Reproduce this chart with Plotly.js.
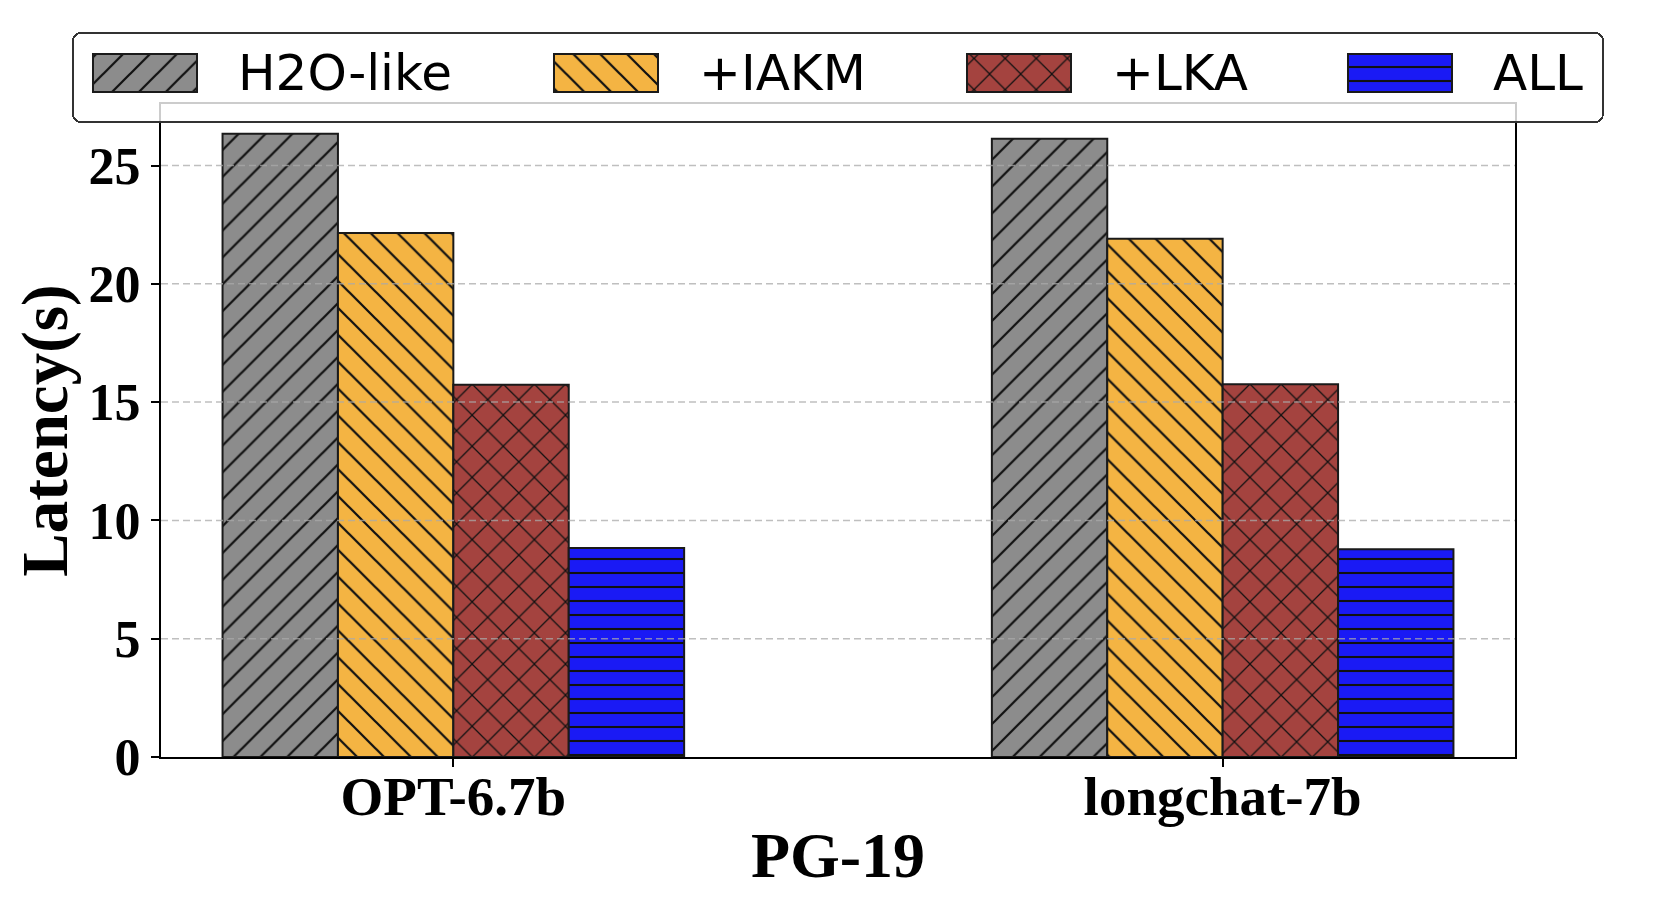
<!DOCTYPE html>
<html><head><meta charset="utf-8">
<script src="https://cdn.plot.ly/plotly-3.0.1.min.js"></script>
<style>html,body{margin:0;padding:0;background:#fff}#chart{width:1661px;height:913px}</style>
</head><body><div id="chart"></div>
<script>
// ---- data ----
const categories = ['OPT-6.7b', 'longchat-7b'];
const seriesNames = ['H2O-like', '+IAKM', '+LKA', 'ALL'];
const h2oLike = [26.34, 26.13];
const iakm = [22.15, 21.90];
const lka = [15.73, 15.75];
const allOpt = [8.83, 8.78];
const yTickValues = [0, 5, 10, 15, 20, 25];
const xTitle = 'PG-19';
const yTitle = 'Latency(s)';

// ---- styles ----
const seriesValues = [h2oLike, iakm, lka, allOpt];
const fills = ['#8c8c8c', '#f4b443', '#a4433f', '#1a1af5'];
const hatches = ['/', '\\', 'x', '-'];
const hatchSizes = [19, 19, 22, 14];
const hatchSolidity = [0.12, 0.12, 0.11, 0.15];

const traces = seriesNames.map((name, i) => ({
  type: 'bar',
  name: name,
  x: categories,
  y: seriesValues[i],
  marker: {
    color: fills[i],
    line: {color: '#1a1a1a', width: 2},
    pattern: {shape: hatches[i], fgcolor: '#111111', bgcolor: fills[i], fillmode: 'replace',
              size: hatchSizes[i], solidity: hatchSolidity[i]}
  },
  hoverinfo: 'skip'
}));

const gridShapes = yTickValues.filter(v => v > 0).map(v => ({
  type: 'line', xref: 'paper', x0: 0, x1: 1, yref: 'y', y0: v, y1: v,
  line: {color: 'rgba(170,170,170,0.75)', width: 1.5, dash: '7px,4px'}, layer: 'above'
}));

const serifBold = {family: 'Liberation Serif, Times New Roman, serif', color: '#000', weight: 'bold'};

const layout = {
  width: 1661, height: 913,
  margin: {l: 161, r: 146, t: 104, b: 156, autoexpand: false},
  paper_bgcolor: '#ffffff', plot_bgcolor: '#ffffff',
  barmode: 'group', bargap: 0.4, bargroupgap: 0,
  font: {family: 'Liberation Serif', color: '#000'},
  showlegend: true,
  xaxis: {
    type: 'category', range: [-0.38, 1.38],
    showline: true, mirror: true, linecolor: '#000', linewidth: 2,
    ticks: 'outside', ticklen: 8, tickwidth: 2, tickcolor: '#000',
    ticklabelstandoff: -18,
    tickfont: Object.assign({size: 55}, serifBold),
    showgrid: false, zeroline: false, automargin: true,
    title: {text: xTitle, font: Object.assign({size: 64}, serifBold), standoff: 6}
  },
  yaxis: {
    range: [0, 27.6], tickmode: 'array', tickvals: yTickValues,
    showline: true, mirror: true, linecolor: '#000', linewidth: 2,
    ticks: 'outside', ticklen: 8, tickwidth: 2, tickcolor: '#000',
    tickfont: Object.assign({size: 52}, serifBold),
    showgrid: false, zeroline: false, automargin: true,
    title: {text: yTitle, font: Object.assign({size: 65}, serifBold), standoff: 0}
  },
  legend: {
    orientation: 'h', x: -0.065, xanchor: 'left', y: 1.1087, yanchor: 'top',
    font: {family: 'DejaVu Sans', size: 50, color: '#000'},
    bgcolor: 'rgba(255,255,255,0.8)', bordercolor: '#333', borderwidth: 2,
    itemwidth: 100, traceorder: 'normal'
  },
  shapes: gridShapes
};

// legend box geometry (page px)
const legendBox = {x0: 73, y0: 33, x1: 1603, y1: 122};
const swatchLefts = [93, 554, 967, 1348];
const swatchW = 104, swatchTop = 54, swatchBottom = 92, textOffset = 145;

function toLocal(el, X, Y) {
  const svg = el.ownerSVGElement;
  const p = svg.createSVGPoint(); p.x = X; p.y = Y;
  return p.matrixTransform(el.getScreenCTM().inverse());
}

function fixLegend(gd) {
  const leg = gd.querySelector('g.legend');
  if (!leg) return;
  [leg, ...leg.querySelectorAll('[clip-path]')].forEach(e => e.removeAttribute('clip-path'));
  const bg = leg.querySelector('rect.bg');
  if (bg) {
    const a = toLocal(bg, legendBox.x0, legendBox.y0), b = toLocal(bg, legendBox.x1, legendBox.y1);
    bg.setAttribute('x', a.x); bg.setAttribute('y', a.y);
    bg.setAttribute('width', b.x - a.x); bg.setAttribute('height', b.y - a.y);
    bg.setAttribute('rx', 8); bg.setAttribute('ry', 8);
  }
  const barTraces = gd.querySelectorAll('.barlayer .trace');
  const items = leg.querySelectorAll('g.traces');
  items.forEach((it, i) => {
    const path = it.querySelector('g.legendpoints path');
    if (path) {
      const a = toLocal(path, swatchLefts[i], swatchTop);
      const b = toLocal(path, swatchLefts[i] + swatchW, swatchBottom);
      path.setAttribute('d', `M${a.x},${a.y}H${b.x}V${b.y}H${a.x}Z`);
      const bp = barTraces[i] && barTraces[i].querySelector('path');
      if (bp) path.style.fill = bp.style.fill;
      path.style.stroke = '#1a1a1a'; path.style.strokeWidth = '2px';
    }
    const txt = it.querySelector('text.legendtext');
    if (txt) {
      const r = txt.getBoundingClientRect();
      const dx = swatchLefts[i] + textOffset - r.left;
      const dy = (swatchTop + swatchBottom) / 2 - (r.top + r.bottom) / 2;
      txt.setAttribute('transform', `translate(${dx},${dy})`);
    }
  });
}

Plotly.newPlot('chart', traces, layout, {staticPlot: true, displayModeBar: false})
  .then(gd => fixLegend(gd));
</script>
</body></html>
